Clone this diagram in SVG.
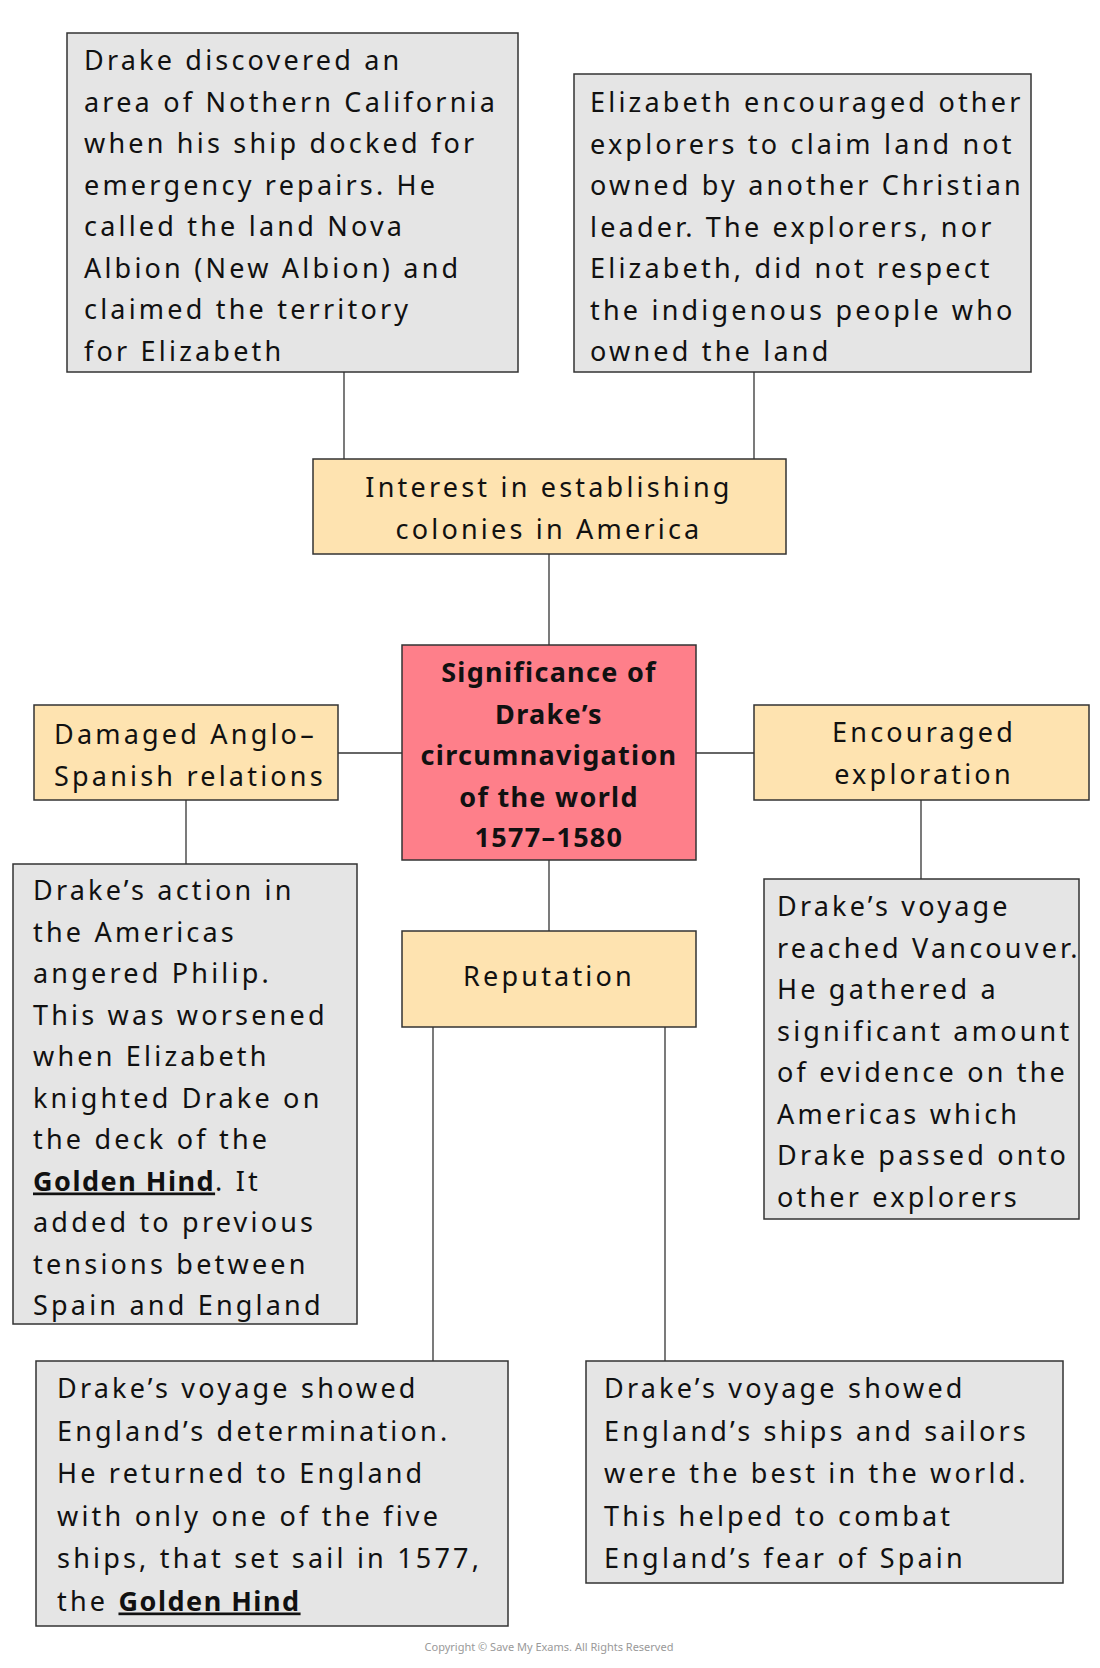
<svg xmlns="http://www.w3.org/2000/svg" width="1100" height="1668" viewBox="0 0 1100 1668">
<style>
text{font-family:"Noto Sans","DejaVu Sans",sans-serif;font-size:27px;fill:#111;letter-spacing:3.2px}
.g{fill:#e5e5e5;stroke:#333;stroke-width:1.5}
.y{fill:#fee3b0;stroke:#333;stroke-width:1.5}
.r{fill:#fe7f8a;stroke:#333;stroke-width:1.5}
.c{text-anchor:middle}
.b{font-weight:bold;letter-spacing:1.3px}
.u{font-weight:bold;text-decoration:underline;letter-spacing:1.5px}
#conn line{stroke:#333;stroke-width:1.3}
</style>
<g id="conn">
<line x1="344" y1="372" x2="344" y2="459"/>
<line x1="754" y1="372" x2="754" y2="459"/>
<line x1="549" y1="554" x2="549" y2="645"/>
<line x1="338" y1="753" x2="402" y2="753"/>
<line x1="696" y1="753" x2="754" y2="753"/>
<line x1="186" y1="800" x2="186" y2="864"/>
<line x1="921" y1="800" x2="921" y2="879"/>
<line x1="549" y1="860" x2="549" y2="931"/>
<line x1="433" y1="1027" x2="433" y2="1361"/>
<line x1="665" y1="1027" x2="665" y2="1361"/>
</g>
<g id="n1"><rect class="g" x="67" y="33" width="451" height="339"/>
<text x="84" y="70">Drake discovered an</text><text x="84" y="111.5">area of Nothern California</text><text x="84" y="153">when his ship docked for</text><text x="84" y="194.5">emergency repairs. He</text><text x="84" y="236">called the land Nova</text><text x="84" y="277.5">Albion (New Albion) and</text><text x="84" y="319">claimed the territory</text><text x="84" y="360.5">for Elizabeth</text></g>
<g id="n2"><rect class="g" x="574" y="74" width="457" height="298"/>
<text x="590" y="112">Elizabeth encouraged other</text><text x="590" y="153.5">explorers to claim land not</text><text x="590" y="195">owned by another Christian</text><text x="590" y="236.5">leader. The explorers, nor</text><text x="590" y="278">Elizabeth, did not respect</text><text x="590" y="319.5">the indigenous people who</text><text x="590" y="361">owned the land</text></g>
<g id="n3"><rect class="y" x="313" y="459" width="473" height="95"/>
<text class="c" x="549" y="497">Interest in establishing</text><text class="c" x="549" y="539">colonies in America</text></g>
<g id="n4"><rect class="r" x="402" y="645" width="294" height="215"/>
<text class="c b" x="549" y="682">Significance of</text><text class="c b" x="549" y="724">Drake’s</text><text class="c b" x="549" y="765">circumnavigation</text><text class="c b" x="549" y="807">of the world</text><text class="c b" x="549" y="847">1577–1580</text></g>
<g id="n5"><rect class="y" x="34" y="705" width="304" height="95"/>
<text x="54" y="744">Damaged Anglo–</text><text x="54" y="786">Spanish relations</text></g>
<g id="n6"><rect class="y" x="754" y="705" width="335" height="95"/>
<text class="c" x="924" y="742">Encouraged</text><text class="c" x="924" y="784">exploration</text></g>
<g id="n7"><rect class="g" x="13" y="864" width="344" height="460"/>
<text x="33" y="900">Drake’s action in</text><text x="33" y="941.5">the Americas</text><text x="33" y="983">angered Philip.</text><text x="33" y="1024.5">This was worsened</text><text x="33" y="1066">when Elizabeth</text><text x="33" y="1107.5">knighted Drake on</text><text x="33" y="1149">the deck of the</text><text x="33" y="1190.5"><tspan class="u">Golden Hind</tspan>. It</text><text x="33" y="1232">added to previous</text><text x="33" y="1273.5">tensions between</text><text x="33" y="1315">Spain and England</text></g>
<g id="n8"><rect class="g" x="764" y="879" width="315" height="340"/>
<text x="777" y="916">Drake’s voyage</text><text x="777" y="957.5">reached Vancouver.</text><text x="777" y="999">He gathered a</text><text x="777" y="1040.5">significant amount</text><text x="777" y="1082">of evidence on the</text><text x="777" y="1123.5">Americas which</text><text x="777" y="1165">Drake passed onto</text><text x="777" y="1206.5">other explorers</text></g>
<g id="n9"><rect class="y" x="402" y="931" width="294" height="96"/>
<text class="c" x="549" y="986">Reputation</text></g>
<g id="n10"><rect class="g" x="36" y="1361" width="472" height="265"/>
<text x="57" y="1398">Drake’s voyage showed</text><text x="57" y="1440.5">England’s determination.</text><text x="57" y="1483">He returned to England</text><text x="57" y="1525.5">with only one of the five</text><text x="57" y="1568">ships, that set sail in 1577,</text><text x="57" y="1610.5">the <tspan class="u">Golden Hind</tspan></text></g>
<g id="n11"><rect class="g" x="586" y="1361" width="477" height="222"/>
<text x="604" y="1398">Drake’s voyage showed</text><text x="604" y="1440.5">England’s ships and sailors</text><text x="604" y="1483">were the best in the world.</text><text x="604" y="1525.5">This helped to combat</text><text x="604" y="1568">England’s fear of Spain</text></g>
<text class="c" x="549" y="1651" style="font-size:11px;fill:#999;letter-spacing:0">Copyright © Save My Exams. All Rights Reserved</text>
</svg>
